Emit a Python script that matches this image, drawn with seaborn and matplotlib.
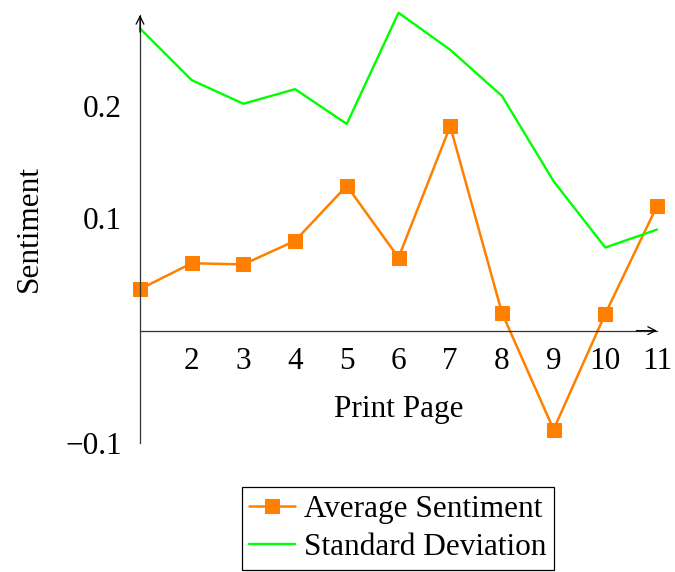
import matplotlib
matplotlib.use("Agg")
import matplotlib.pyplot as plt
import seaborn as sns
import pandas as pd

# Sentiment statistics per printed page
pages = [1, 2, 3, 4, 5, 6, 7, 8, 9, 10, 11]
avg_sentiment = [0.037, 0.060, 0.059, 0.080, 0.129, 0.065, 0.182, 0.016, -0.088, 0.015, 0.111]
std_deviation = [0.269, 0.223, 0.202, 0.215, 0.184, 0.283, 0.250, 0.209, 0.133, 0.074, 0.090]
x_ticks = [2, 3, 4, 5, 6, 7, 8, 9, 10, 11]
y_ticks = [-0.1, 0.1, 0.2]

df = pd.DataFrame({"page": pages, "avg": avg_sentiment, "std": std_deviation})

sns.set_theme(style="white")
plt.rcParams["font.family"] = ["Liberation Serif", "DejaVu Serif"]
plt.rcParams["axes.unicode_minus"] = True

FS = 22.5
ORANGE = "#ff8000"
GREEN = "#00ff00"
AXIS = "#333333"

fig = plt.figure(figsize=(6.75, 5.72), dpi=100)
ax = fig.add_axes([140 / 675, 1 - 443 / 572, (657 - 140) / 675, (443 - 15) / 572])

sns.lineplot(data=df, x="page", y="avg", ax=ax, color=ORANGE, linewidth=1.8,
             marker="s", markersize=9.5, markeredgecolor=ORANGE,
             label="Average Sentiment", clip_on=False, legend=False)
sns.lineplot(data=df, x="page", y="std", ax=ax, color=GREEN, linewidth=1.7,
             label="Standard Deviation", clip_on=False, legend=False)

ax.set_xlim(1, 11)
ax.set_ylim(-0.1, 0.281)

# axis lines through the origin, pgfplots style
ax.spines["left"].set_position(("data", 1))
ax.spines["bottom"].set_position(("data", 0))
ax.spines["right"].set_visible(False)
ax.spines["top"].set_visible(False)
for s in ("left", "bottom"):
    ax.spines[s].set_color(AXIS)
    ax.spines[s].set_linewidth(0.9)

ax.annotate("", xy=(1.0, 0), xycoords=("axes fraction", "data"),
            xytext=(0.96, 0), textcoords=("axes fraction", "data"),
            arrowprops=dict(arrowstyle="->", color="black", lw=0.9,
                            shrinkA=0, shrinkB=0, mutation_scale=14))
ax.annotate("", xy=(1, 1.0), xycoords=("data", "axes fraction"),
            xytext=(1, 0.96), textcoords=("data", "axes fraction"),
            arrowprops=dict(arrowstyle="->", color="black", lw=0.9,
                            shrinkA=0, shrinkB=0, mutation_scale=14))

ax.set_xticks(x_ticks)
ax.set_xticklabels([str(t) for t in x_ticks])
ax.set_yticks(y_ticks)
ax.set_yticklabels([f"{t:g}".replace("-", "\u2212") for t in y_ticks])
ax.tick_params(axis="both", direction="inout", length=8, width=0.8,
               color=AXIS, labelsize=FS, labelcolor="black")
ax.tick_params(axis="x", pad=8)
ax.tick_params(axis="y", pad=9)

ax.set_xlabel("Print Page", fontsize=FS, color="black")
ax.set_ylabel("Sentiment", fontsize=FS, color="black")
ax.xaxis.set_label_coords(0.5, 0.113)
ax.yaxis.set_label_coords(-0.185, 0.5)

handles, labels = ax.get_legend_handles_labels()
leg = fig.legend(handles, labels, loc="upper center",
                 bbox_to_anchor=(398 / 675, 1 - 487 / 572),
                 fontsize=FS, labelcolor="black", frameon=True, fancybox=False,
                 framealpha=1, edgecolor="black", handlelength=1.45,
                 handletextpad=0.3, labelspacing=0.3, borderpad=0.25,
                 borderaxespad=0)
leg.get_frame().set_linewidth(0.9)

fig.savefig("out.png", dpi=100)
